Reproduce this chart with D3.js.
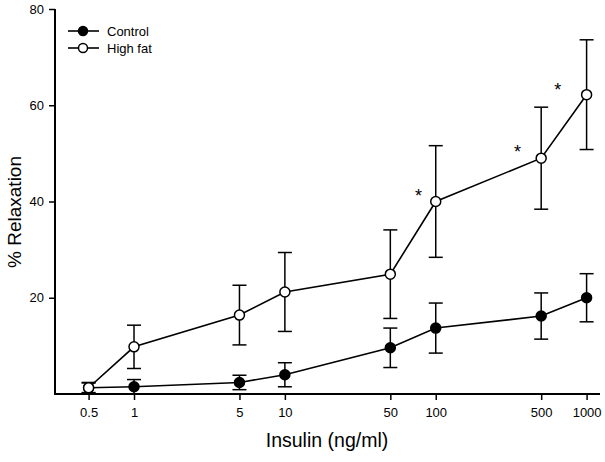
<!DOCTYPE html>
<html><head><meta charset="utf-8">
<script src="https://cdn.jsdelivr.net/npm/d3@7"></script>
<style>body{margin:0;background:#fff}svg{display:block}</style>
</head><body>
<svg id="c" width="605" height="462"></svg>
<script>
const doses = [0.5, 1, 5, 10, 50, 100, 500, 1000];
const xTickLabels = ["0.5", "1", "5", "10", "50", "100", "500", "1000"];
const yTicks = [20, 40, 60, 80];
const controlMean = [1.3, 1.5, 2.4, 4.0, 9.6, 13.7, 16.2, 20.0];
const controlErr  = [1.0, 1.5, 1.5, 2.5, 4.1, 5.2, 4.8, 5.0];
const highFatMean = [1.3, 9.8, 16.4, 21.2, 24.9, 40.0, 49.0, 62.2];
const highFatErr  = [1.1, 4.5, 6.2, 8.2, 9.2, 11.6, 10.6, 11.4];
// significance markers: position in data units (dose, % relaxation)
const starDose  = [77, 349, 643];
const starValue = [41.9, 51.2, 64.1];

const svg = d3.select("#c");
const font = "'Liberation Sans', Arial, sans-serif";
const x = d3.scaleLog().domain([0.5, 1000]).range([88.6, 586.6]);
const y = d3.scaleLinear().domain([0, 80]).range([394, 9]);

// axes
const xAxis = svg.append("g").attr("transform", "translate(0,394)")
  .call(d3.axisBottom(x).tickValues(doses).tickFormat((d,i)=>xTickLabels[i]).tickSizeOuter(0).tickSize(6).tickPadding(8));
xAxis.select(".domain").attr("d", "M55,0H600").attr("stroke-width", 2);
const yAxis = svg.append("g").attr("transform", "translate(55,0)")
  .call(d3.axisLeft(y).tickValues(yTicks).tickSizeOuter(0).tickSize(6).tickPadding(5));
yAxis.select(".domain").attr("d", "M0,9V395").attr("stroke-width", 2);
svg.selectAll(".tick line").attr("stroke-width", 1.5);
svg.selectAll(".tick text").attr("font-family", font).attr("font-size", 13).attr("fill", "#000");

// axis titles
svg.append("text").attr("x", 327).attr("y", 447).attr("text-anchor", "middle")
  .attr("font-family", font).attr("font-size", 19.5).text("Insulin (ng/ml)");
svg.append("text").attr("transform", "translate(21,212) rotate(-90)").attr("text-anchor", "middle")
  .attr("font-family", font).attr("font-size", 19).text("% Relaxation");

function drawSeries(means, errs, fill) {
  const data = doses.map((d,i)=>({d, m: means[i], e: errs[i]}));
  const g = svg.append("g");
  const eb = g.selectAll(".eb").data(data).enter().append("g").attr("stroke", "#000").attr("stroke-width", 1.5);
  eb.append("line").attr("x1", p=>x(p.d)).attr("x2", p=>x(p.d)).attr("y1", p=>y(p.m+p.e)).attr("y2", p=>y(Math.max(0,p.m-p.e)));
  eb.append("line").attr("x1", p=>x(p.d)-7).attr("x2", p=>x(p.d)+7).attr("y1", p=>y(p.m+p.e)).attr("y2", p=>y(p.m+p.e));
  eb.filter(p=>p.m-p.e>0).append("line").attr("x1", p=>x(p.d)-7).attr("x2", p=>x(p.d)+7).attr("y1", p=>y(p.m-p.e)).attr("y2", p=>y(p.m-p.e));
  g.append("path").datum(data).attr("fill", "none").attr("stroke", "#000").attr("stroke-width", 1.6)
    .attr("d", d3.line().x(p=>x(p.d)).y(p=>y(p.m)));
  g.selectAll("circle").data(data).enter().append("circle")
    .attr("cx", p=>x(p.d)).attr("cy", p=>y(p.m)).attr("r", 5)
    .attr("fill", fill).attr("stroke", "#000").attr("stroke-width", 1.5);
}
drawSeries(controlMean, controlErr, "#000");
drawSeries(highFatMean, highFatErr, "#fff");

// significance stars
svg.selectAll(".star").data(starDose).enter().append("text")
  .attr("x", d=>x(d)).attr("y", (d,i)=>y(starValue[i])+10)
  .attr("text-anchor", "middle").attr("font-family", font).attr("font-size", 18).text("*");

// legend
const legend = [{name:"Control", fill:"#000", y:31}, {name:"High fat", fill:"#fff", y:48}];
const lg = svg.selectAll(".lg").data(legend).enter().append("g");
lg.append("line").attr("x1", 68).attr("x2", 99).attr("y1", d=>d.y).attr("y2", d=>d.y).attr("stroke", "#000").attr("stroke-width", 1.6);
lg.append("circle").attr("cx", 83).attr("cy", d=>d.y).attr("r", 4.5).attr("fill", d=>d.fill).attr("stroke", "#000").attr("stroke-width", 1.5);
lg.append("text").attr("x", 107).attr("y", d=>d.y+4.5).attr("font-family", font).attr("font-size", 13).text(d=>d.name);
</script>
</body></html>
